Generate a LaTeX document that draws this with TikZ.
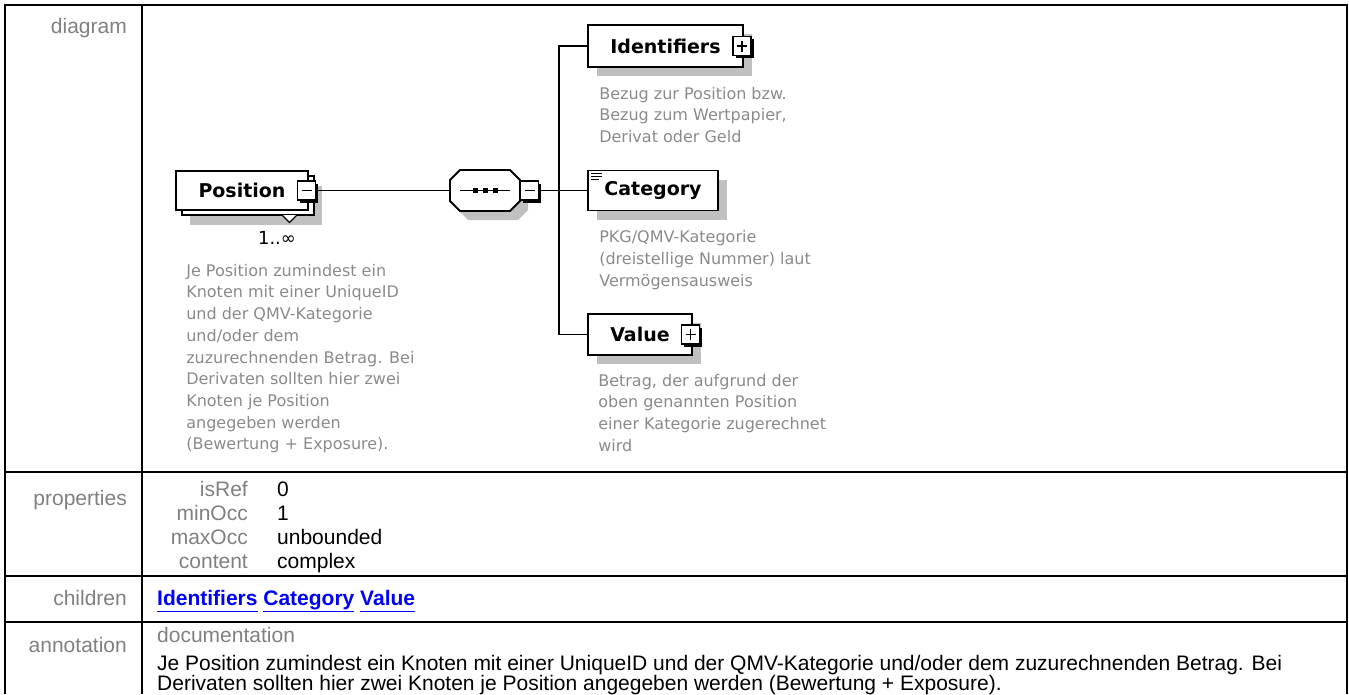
\documentclass[tikz,border=0pt]{standalone}
\usepackage{fontspec}
\setmainfont{Liberation Sans}
\newfontfamily\spyfont{DejaVu Sans}
\usetikzlibrary{positioning,shadows}
\definecolor{labelgray}{HTML}{808080}
\definecolor{docgray}{HTML}{8A8A8A}
\definecolor{shadegray}{HTML}{C0C0C0}
\definecolor{linkblue}{HTML}{0000FF}
\newcommand\seqoutline{(-25,-20.5) -- (25,-20.5) -- (35,-10.5) -- (35,10.5) -- (25,20.5) -- (-25,20.5) -- (-35,10.5) -- (-35,-10.5) -- cycle}

\begin{document}
\begin{tikzpicture}[x=1pt, y=-1pt,
  grid/.style={line width=2.6pt},
  rowlabel/.style={anchor=base east, inner sep=0, text=labelgray, font=\fontsize{21}{24}\selectfont},
  cell/.style={anchor=base west, inner sep=0, font=\fontsize{21}{24}\selectfont},
  elbase/.style={draw, line width=1.8pt, fill=white, minimum height=40pt, inner sep=0, font=\spyfont\bfseries\fontsize{19}{22}\selectfont},
  elem/.style={elbase, drop shadow={shadow xshift=9pt, shadow yshift=-9pt, fill=shadegray, opacity=1, draw=none}},
  repelem/.style={elbase, drop shadow={shadow xshift=14pt, shadow yshift=-15pt, fill=shadegray, opacity=1, draw=none},
    copy shadow={shadow xshift=6pt, shadow yshift=-5pt, draw=black, fill=white}},
  toggle/.style={draw, fill=white, line width=1.3pt, minimum width=18pt, minimum height=19pt, inner sep=0,
    drop shadow={shadow xshift=2.5pt, shadow yshift=-2.5pt, fill=black, opacity=1, draw=none}},
  collapse/.style={toggle, path picture={\draw[line width=1.3pt] ([xshift=4pt]path picture bounding box.west) -- ([xshift=-4pt]path picture bounding box.east);}},
  expand/.style={toggle, path picture={\draw[line width=1.3pt] ([xshift=4pt]path picture bounding box.west) -- ([xshift=-4pt]path picture bounding box.east)
    ([yshift=4pt]path picture bounding box.south) -- ([yshift=-4pt]path picture bounding box.north);}},
  seqcore/.style={minimum width=70pt, minimum height=41pt, inner sep=0},
  wire/.style={line width=1.5pt},
  doc/.style={anchor=north west, inner sep=0, align=left, text=docgray, font=\spyfont\fontsize{16}{21.7}\selectfont}]
  \useasboundingbox (0,0) rectangle (1349,694);

  % table
  \draw[grid] (5,694) -- (5,5) -- (1347,5) -- (1347,694);
  \draw[grid] (142,5) -- (142,694);
  \foreach \y in {472,576,622}
    \draw[grid] (5,\y) -- (1347,\y);

  \node[rowlabel] (lblDiagram) at (127,33) {diagram};
  \node[rowlabel] (lblProps) at (127,505) {properties};
  \node[rowlabel] (lblChildren) at (127,605) {children};
  \node[rowlabel] (lblAnno) at (127,652) {annotation};

  \foreach \key/\val/\y [count=\i] in {isRef/0/496, minOcc/1/520, maxOcc/unbounded/544, content/complex/568} {
    \node[rowlabel] (propKey\i) at (248,\y) {\key};
    \node[cell] (propVal\i) at (277,\y) {\val};
  }

  \node[cell, text=linkblue, font=\bfseries\fontsize{21}{24}\selectfont] (childLinks) at (157,605)
    {\underline{Identifiers\vphantom{g}} \underline{Category} \underline{Value\vphantom{g}}};

  \node[cell, text=labelgray] (docHead) at (157,642) {documentation};
  \node[cell] (docLine1) at (157,670) {Je Position zumindest ein Knoten mit einer UniqueID und der QMV-Kategorie und/oder dem zuzurechnenden Betrag. Bei};
  \node[cell] (docLine2) at (157,690) {Derivaten sollten hier zwei Knoten je Position angegeben werden (Bewertung + Exposure).};

  % diagram
  \node[repelem, minimum width=132pt, minimum height=39pt] (position) at (242,190.5) {Position};
  \draw[line width=1.2pt, fill=white] (282,215) -- (289.5,222.5) -- (297,215);
  \node[anchor=base, inner sep=0, font=\spyfont\fontsize{18}{20}\selectfont] (posOcc) at (277,244) {1..∞};
  \node[collapse] (posToggle) at (306.5,190.5) {};
  \node[doc, below right=53pt and 11pt of position.south west] (posDoc)
    {Je Position zumindest ein\\Knoten mit einer UniqueID\\und der QMV-Kategorie\\und/oder dem\\zuzurechnenden Betrag. Bei\\Derivaten sollten hier zwei\\Knoten je Position\\angegeben werden\\(Bewertung + Exposure).};

  \node[seqcore] (seq) at (485,190.5) {};
  \fill[shadegray, shift={(seq.center)}, shift={(8,9)}] \seqoutline;
  \draw[line width=1.8pt, fill=white, shift={(seq.center)}] \seqoutline;
  \draw[wire] ([xshift=10pt]seq.west) -- ([xshift=-10pt]seq.east);
  \foreach \dx in {-10,0,10}
    \fill[shift={(seq.center)}] (\dx-2.5,-2.5) rectangle (\dx+2.5,2.5);
  \node[collapse] (seqToggle) at (529.5,190.5) {};

  \node[elem, minimum width=155pt, minimum height=42pt] (identifiers) at (665.5,46) {Identifiers};
  \node[expand] (idToggle) at (742,46) {};
  \node[doc, below right=19pt and 12pt of identifiers.south west] (idDoc)
    {Bezug zur Position bzw.\\Bezug zum Wertpapier,\\Derivat oder Geld};

  \node[elem, minimum width=130pt] (category) at (653,190.5) {Category};
  \draw[line width=1.1pt, shift={(category.north west)}] (4,4) -- (15,4) (4,7) -- (15,7) (4,10) -- (12,10);
  \node[doc, below right=19pt and 12pt of category.south west] (catDoc)
    {PKG/QMV-Kategorie\\(dreistellige Nummer) laut\\Vermögensausweis};

  \node[elem, minimum width=104pt, minimum height=41pt] (value) at (640,334.5) {Value};
  \node[expand] (valToggle) at (690.5,334.5) {};
  \node[doc, below right=18pt and 11pt of value.south west] (valDoc)
    {Betrag, der aufgrund der\\oben genannten Position\\einer Kategorie zugerechnet\\wird};

  % connectors
  \coordinate (spine) at (559,190.5);
  \draw[wire] (posToggle.east) -- (seq.west);
  \draw[wire] (seqToggle.east) -- (category.west);
  \draw[wire] (identifiers.west) -| (spine) |- (value.west);
\end{tikzpicture}
\end{document}
